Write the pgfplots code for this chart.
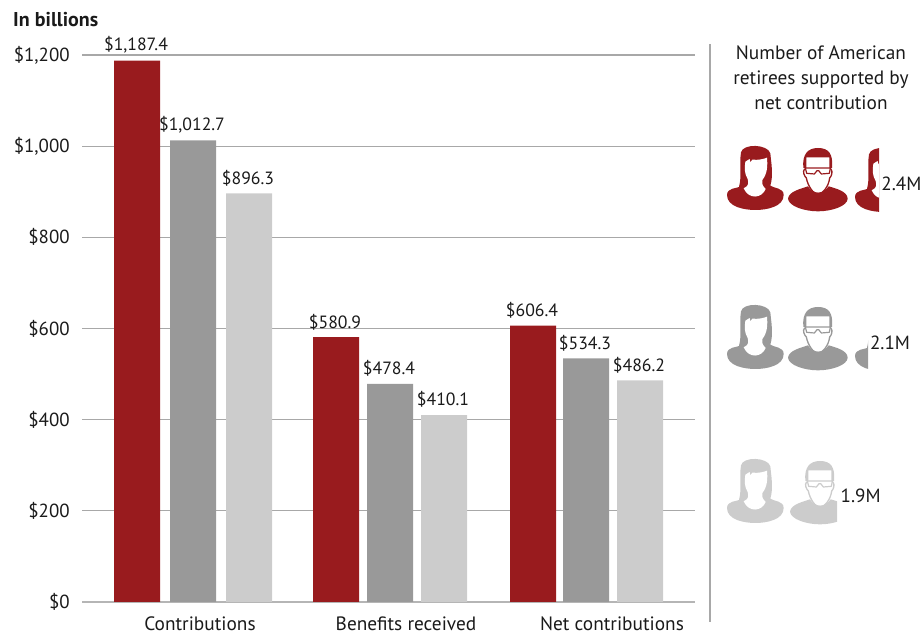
\documentclass[border=0pt]{standalone}
\usepackage{pgfplots}
\pgfplotsset{compat=1.18}
\usepackage{fontspec}
\setmainfont{PT Sans}
\definecolor{cred}{HTML}{991B1E}
\definecolor{cmid}{HTML}{999999}
\definecolor{clight}{HTML}{CCCCCC}
\definecolor{cgrid}{HTML}{A8A8A8}
\definecolor{ctext}{HTML}{1A1A1A}
% icons: local units are 1/3 px, origin top-left of the icon box, y downward
\newcommand{\woman}[1]{%
  \fill[#1] (40,125) .. controls (30,130) and (0,128) .. (0,150)
     .. controls (0,185) and (50,195) .. (85,195)
     .. controls (120,195) and (170,185) .. (170,150)
     .. controls (170,128) and (140,130) .. (130,122)
     .. controls (140,90) and (132,50) .. (130,25)
     .. controls (122,-3) and (48,-5) .. (42,22)
     .. controls (36,60) and (45,95) .. (36,125) -- cycle;
  \fill[white] (55,50) -- (68,42) -- (70,52) -- (76,44)
     .. controls (95,46) and (110,42) .. (120,38)
     .. controls (122,60) and (122,85) .. (106,105)
     .. controls (105,115) and (104,120) .. (116,132)
     .. controls (105,160) and (65,165) .. (50,130)
     .. controls (68,122) and (64,112) .. (62,102)
     .. controls (52,85) and (52,70) .. (55,50) -- cycle;
}
\newcommand{\man}[1]{%
  \fill[#1] (0,152) .. controls (2,130) and (40,122) .. (60,115)
     .. controls (75,140) and (105,140) .. (122,115)
     .. controls (145,122) and (178,130) .. (179,152)
     .. controls (178,175) and (130,190) .. (90,190)
     .. controls (50,190) and (2,175) .. (0,152) -- cycle;
  \fill[#1] (46,60) .. controls (42,18) and (60,0) .. (90,0)
     .. controls (122,0) and (136,18) .. (132,60)
     -- (124,60) -- (124,28) -- (55,28) -- (55,60) -- cycle;
  \draw[#1,line width=0.9pt,line join=round] (52,60) -- (127,60) -- (124,76) -- (100,78) -- (92,68) -- (87,68) -- (79,78) -- (56,76) -- cycle;
  \draw[#1,line width=1pt] (50,62) .. controls (42,72) and (50,85) .. (55,90)
     .. controls (60,115) and (75,137) .. (90,139)
     .. controls (105,137) and (122,115) .. (125,90)
     .. controls (130,85) and (136,72) .. (128,62);
}
\begin{document}
\begin{tikzpicture}[x=1pt,y=1pt]
\useasboundingbox (0,0) rectangle (692.25pt,475.5pt);
\begin{axis}[
  at={(61.5pt,24pt)}, anchor=south west,
  scale only axis, width=459.75pt, height=410.25pt,
  xmin=82, xmax=695, ymin=0, ymax=1200,
  axis y line*=left, axis x line*=bottom,
  y axis line style={draw=none},
  x axis line style={draw=cgrid!85,line width=1.5pt,-},
  ytick={0,200,...,1200},
  yticklabel={\$\pgfmathprintnumber[1000 sep={,}]{\tick}},
  /pgf/number format/assume math mode=true,
  xtick={200,406,612},
  xticklabels={Contributions,Benefits received,Net contributions},
  major tick length=0pt,
  tick style={draw=none},
  ymajorgrids, grid style={cgrid,line width=0.9pt},
  axis on top=false, clip=false,
  yticklabel style={font=\fontsize{14.2}{16}\selectfont,text=ctext,xshift=-5.7pt},
  xticklabel style={font=\fontsize{14.5}{16}\selectfont,text=ctext,inner sep=0pt,yshift=-11pt},
  ybar, bar width=34.5pt, bar shift=0pt,
  nodes near coords={\$\pgfmathprintnumber[fixed,precision=1,fixed zerofill,1000 sep={,}]{\pgfplotspointmeta}},
  every node near coord/.append style={font=\fontsize{13.3}{15}\selectfont,text=ctext,yshift=2pt,xshift=-0.75pt},
]
\addplot[draw=none,fill=cred] coordinates {(137,1187.4) (336,580.9) (533,606.4)};
\addplot[draw=none,fill=cmid] coordinates {(193,1012.7) (390,478.4) (586,534.3)};
\addplot[draw=none,fill=clight] coordinates {(249,896.3) (444,410.1) (640,486.2)};
\end{axis}
% separator
\draw[cgrid,line width=1.9pt] (532.5pt,442.5pt) -- (532.5pt,9pt);
% side title
\node[align=center,font=\fontsize{14.5}{18.75}\selectfont,text=ctext,anchor=center] at (615.75pt,417pt)
  {Number of American\\retirees supported by\\net contribution};
% row 1
\begin{scope}[shift={(545.25pt,366.75pt)},x=0.25pt,y=-0.25pt]\woman{cred}\end{scope}
\begin{scope}[shift={(591pt,364.5pt)},x=0.25pt,y=-0.25pt]\man{cred}\end{scope}
\begin{scope}\clip (600pt,300pt) rectangle (659.25pt,400pt);
\begin{scope}[shift={(641.25pt,365.25pt)},x=0.25pt,y=-0.25pt]\woman{cred}\end{scope}\end{scope}
\node[font=\fontsize{14.3}{16}\selectfont,text=ctext,anchor=west] at (657.5pt,337.5pt) {2.4M};
% row 2
\begin{scope}[shift={(545.25pt,247.5pt)},x=0.25pt,y=-0.25pt]\woman{cmid}\end{scope}
\begin{scope}[shift={(591pt,245.25pt)},x=0.25pt,y=-0.25pt]\man{cmid}\end{scope}
\begin{scope}\clip (600pt,180pt) rectangle (651pt,280pt);
\begin{scope}[shift={(641.25pt,246pt)},x=0.25pt,y=-0.25pt]\woman{cmid}\end{scope}\end{scope}
\node[font=\fontsize{14.3}{16}\selectfont,text=ctext,anchor=west] at (649pt,218.5pt) {2.1M};
% row 3
\begin{scope}[shift={(545.25pt,132pt)},x=0.25pt,y=-0.25pt]\woman{clight}\end{scope}
\begin{scope}\clip (580pt,60pt) rectangle (627.75pt,140pt);
\begin{scope}[shift={(592.5pt,129.75pt)},x=0.25pt,y=-0.25pt]\man{clight}\end{scope}\end{scope}
\node[font=\fontsize{14.3}{16}\selectfont,text=ctext,anchor=west] at (627pt,104pt) {1.9M};
% unit
\node[font=\bfseries\fontsize{15}{16}\selectfont,text=ctext,anchor=west] at (6.4pt,460.5pt) {In billions};
\end{tikzpicture}
\end{document}
